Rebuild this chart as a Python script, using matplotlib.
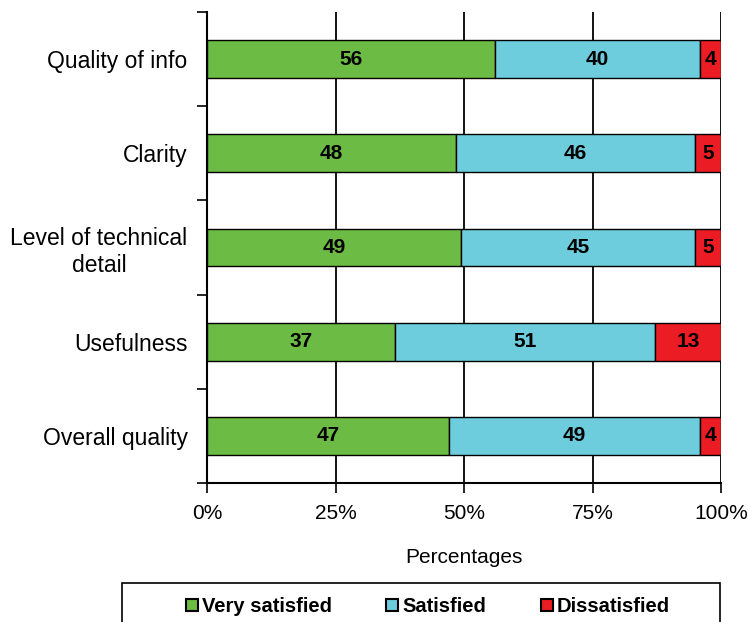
import matplotlib.pyplot as plt
import numpy as np
from matplotlib.patches import Rectangle
from matplotlib.lines import Line2D

plt.rcParams['font.family'] = ['Liberation Sans', 'DejaVu Sans']

# survey results (percent of respondents)
categories = ['Quality of info', 'Clarity', 'Level of technical\ndetail', 'Usefulness', 'Overall quality']
very_satisfied = [56, 48, 49, 37, 47]
satisfied = [40, 46, 45, 51, 49]
dissatisfied = [4, 5, 5, 13, 4]
series_names = ['Very satisfied', 'Satisfied', 'Dissatisfied']
colors = ['#6cbb45', '#6dcddc', '#ec1c24']

fig = plt.figure(figsize=(7.48, 6.22), dpi=100)
ax = fig.add_axes([207 / 748, 1 - 483 / 622, 514 / 748, 471 / 622])

data = np.array([very_satisfied, satisfied, dissatisfied], dtype=float)
totals = data.sum(axis=0)
shares = data / totals * 100  # stacked to 100%

y = np.arange(len(categories))
left = np.zeros(len(categories))
for i, name in enumerate(series_names):
    bars = ax.barh(y, shares[i], left=left, height=0.4, color=colors[i],
                   edgecolor='black', linewidth=1, label=name, zorder=3)
    for j, rect in enumerate(bars):
        ax.text(left[j] + shares[i][j] / 2, y[j], str(int(data[i][j])),
                ha='center', va='center', fontsize=15, fontweight='bold', zorder=4)
    left += shares[i]

ax.set_xlim(0, 100)
ax.set_ylim(len(categories) - 0.5, -0.5)
ax.set_xticks([0, 25, 50, 75, 100])
ax.set_xticklabels(['0%', '25%', '50%', '75%', '100%'], fontsize=15)
ax.set_yticks(y)
ax.set_yticklabels(categories, fontsize=16.5, multialignment='center')
ax.set_yticks(np.arange(-0.5, len(categories)), minor=True)
ax.tick_params(axis='y', which='major', length=0, pad=14)
ax.tick_params(axis='y', which='minor', length=7, width=1.2)
ax.tick_params(axis='x', length=7, width=1.2, pad=8)
ax.grid(axis='x', color='black', linewidth=1.3, zorder=0)
for s in ['top', 'right']:
    ax.spines[s].set_visible(False)
for s in ['left', 'bottom']:
    ax.spines[s].set_linewidth(1.5)
ax.set_xlabel('Percentages', fontsize=15, labelpad=18)

# legend box running off the bottom edge
fig.patches.append(Rectangle((122 / 748, -0.05), 598 / 748, 0.05 + 39 / 622,
                             transform=fig.transFigure, facecolor='white',
                             edgecolor='black', linewidth=1.2))
handles = [Line2D([], [], marker='s', linestyle='none', markersize=8,
                  markerfacecolor=c, markeredgecolor='black', markeredgewidth=1.5)
           for c in colors]
fig.legend(handles, series_names, loc='center', bbox_to_anchor=(428 / 748, 15 / 622),
           ncol=3, frameon=False, handlelength=0.6, handletextpad=0.2,
           columnspacing=2.7, prop={'weight': 'bold', 'size': 14.5})

plt.savefig('out.png', dpi=100)
